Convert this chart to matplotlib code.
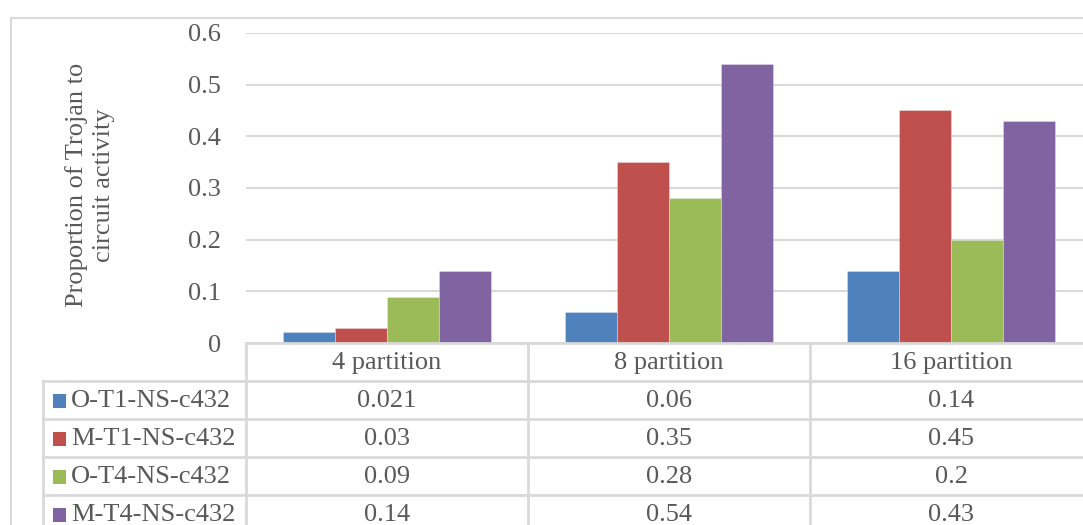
import numpy as np
import matplotlib
matplotlib.use("Agg")
import matplotlib.pyplot as plt
from matplotlib.transforms import blended_transform_factory
from matplotlib.patches import Rectangle

categories = ["4 partition", "8 partition", "16 partition"]
series_names = ["O-T1-NS-c432", "M-T1-NS-c432", "O-T4-NS-c432", "M-T4-NS-c432"]
o_t1 = [0.021, 0.06, 0.14]
m_t1 = [0.03, 0.35, 0.45]
o_t4 = [0.09, 0.28, 0.2]
m_t4 = [0.14, 0.54, 0.43]
yticks = [0, 0.1, 0.2, 0.3, 0.4, 0.5, 0.6]
ylabel = "Proportion of Trojan to\ncircuit activity"

series = [o_t1, m_t1, o_t4, m_t4]
colors = ["#4F81BD", "#C0504D", "#9BBB59", "#8064A2"]
text_color = "#595959"
line_color = "#D9D9D9"

plt.rcParams["font.family"] = ["Liberation Serif", "DejaVu Serif"]
FS = 19

W, H = 1083, 525
fig = plt.figure(figsize=(W / 100, H / 100), dpi=100)

def fx(px):
    return px / W

def fy(py):
    return 1 - py / H

# plot area: x 246..1092 px (extends past the right edge), y 33..343 px
left_px, right_px, top_px, bot_px = 246, 1092, 33, 343
ax = fig.add_axes([fx(left_px), fy(bot_px), (right_px - left_px) / W, (bot_px - top_px) / H])

x = np.arange(len(categories))
bw = 0.184
offsets = (np.arange(len(series)) - 1.5) * bw
for vals, off, c in zip(series, offsets, colors):
    ax.bar(x + off, vals, width=bw, color=c, edgecolor=(1, 1, 1, 0.35), linewidth=0.6, zorder=3)

ax.set_xlim(-0.5, len(categories) - 0.5)
ax.set_ylim(0, 0.6)
ax.set_yticks(yticks)
ax.set_yticklabels([format(v, "g") for v in yticks])
ax.set_xticks([])
ax.tick_params(axis="y", length=0, pad=18, labelsize=FS, labelcolor=text_color)
ax.grid(axis="y", color=line_color, linewidth=1.5, zorder=0)
for s in ["top", "right", "left"]:
    ax.spines[s].set_visible(False)
ax.spines["bottom"].set_color(line_color)
ax.spines["bottom"].set_linewidth(2)
ax.spines["bottom"].set_zorder(4)

ax.set_ylabel(ylabel, fontsize=FS, color=text_color, linespacing=1.3)
ax.yaxis.set_label_coords((115 - left_px) / (right_px - left_px), 0.51)

# data table under the plot area
trans = blended_transform_factory(ax.transData, fig.transFigure)
row_h = 38
header_top = bot_px
table_left_x = -0.5 + (43 - left_px) / ((right_px - left_px) / len(categories))
edges = np.arange(len(categories) + 1) - 0.5
n_rows = len(series)
bottom_px = header_top + row_h * (n_rows + 1)

# vertical column dividers
for e in edges:
    ax.plot([e, e], [fy(header_top), fy(bottom_px)], transform=trans, color=line_color,
            linewidth=2, clip_on=False, zorder=2)
ax.plot([table_left_x, table_left_x], [fy(header_top + row_h), fy(bottom_px)], transform=trans,
        color=line_color, linewidth=2, clip_on=False)
# horizontal row dividers
for r in range(1, n_rows + 2):
    yy = fy(header_top + r * row_h)
    ax.plot([table_left_x, edges[-1]], [yy, yy], transform=trans, color=line_color,
            linewidth=2, clip_on=False)

# header labels
for xi, cat in zip(x, categories):
    ax.text(xi, fy(header_top + row_h / 2 + 1), cat, transform=trans, ha="center", va="center",
            fontsize=FS, color=text_color)

# series rows
for r, (name, vals, c) in enumerate(zip(series_names, series, colors)):
    yc = fy(header_top + row_h * (r + 1.5) + 1)
    fig.patches.append(Rectangle((fx(53), yc - 7 / H), 13 / W, 14 / H, transform=fig.transFigure,
                                 facecolor=c, edgecolor="none"))
    fig.text(fx(71), yc, name, ha="left", va="center", fontsize=FS, color=text_color)
    for xi, v in zip(x, vals):
        ax.text(xi, yc, format(v, "g"), transform=trans, ha="center", va="center",
                fontsize=FS, color=text_color)

# chart border
fig.add_artist(plt.Line2D([fx(11), fx(11)], [fy(18), 0], transform=fig.transFigure,
                          color=line_color, linewidth=1.5))
fig.add_artist(plt.Line2D([fx(11), 1], [fy(18), fy(18)], transform=fig.transFigure,
                          color=line_color, linewidth=1.5))

fig.savefig("out.png", dpi=100)
